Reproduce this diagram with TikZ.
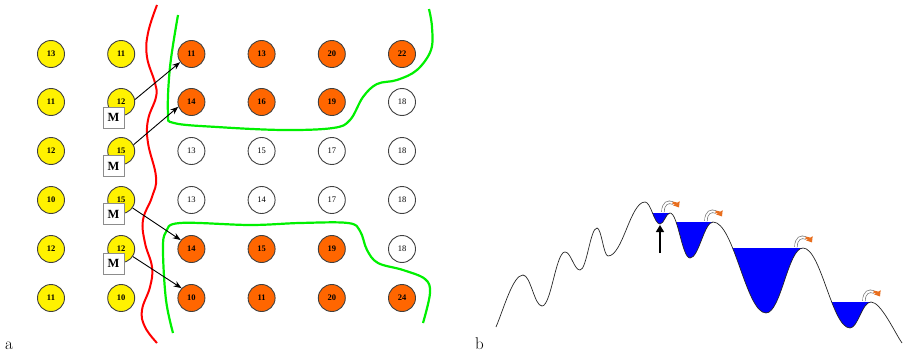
\documentclass[tikz,border=0pt]{standalone}
\usepackage{fontspec}
\newfontfamily\tnr{Liberation Serif}
\usetikzlibrary{arrows.meta}
\definecolor{orgfill}{RGB}{255,102,0}
\definecolor{ovforange}{RGB}{232,110,30}
\definecolor{lineRed}{RGB}{255,0,0}
\definecolor{lineGreen}{RGB}{0,240,0}
\begin{document}
\begin{tikzpicture}[x=1pt,y=-1pt,
  cell/.style={circle, draw=black!75, line width=0.9pt, minimum size=27pt, inner sep=0pt,
    font=\tnr\bfseries\fontsize{8.5}{8.5}\selectfont},
  ylw/.style={cell, fill=yellow},
  org/.style={cell, fill=orgfill},
  wht/.style={cell, fill=white, font=\tnr\fontsize{8.5}{8.5}\selectfont},
  mbox/.style={draw=black!45, fill=white, line width=0.6pt, minimum size=21pt, inner sep=0pt,
    font=\tnr\bfseries\fontsize{12.5}{12.5}\selectfont},
  mv/.style={-{Stealth[length=8pt,width=6pt]}, line width=0.9pt},
  land/.style={draw=black!85, line width=0.7pt},
  water/.style={fill=blue},
  lbl/.style={font=\fontsize{17}{17}\selectfont, inner sep=0pt, anchor=base west},
  ovf/.pic={
    \draw[draw=black!60, line width=0.6pt, double=white, double distance=2pt]
      (-7,-1) .. controls (-7,-10) and (-2,-12) .. (3,-10);
    \draw[ovforange, line width=2.4pt, -{Triangle[length=5pt,width=7.5pt]}]
      (2.5,-10.2) .. controls (6.5,-9.5) .. (9,-5.5);
  }
]
\useasboundingbox (0,0) rectangle (906,356);

% grid of circles
\foreach \r/\y/\vals in {
  1/54/{13/ylw,11/ylw,11/org,13/org,20/org,22/org},
  2/102/{11/ylw,12/ylw,14/org,16/org,19/org,18/wht},
  3/151/{12/ylw,15/ylw,13/wht,15/wht,17/wht,18/wht},
  4/200/{10/ylw,15/ylw,13/wht,14/wht,17/wht,18/wht},
  5/249/{12/ylw,12/ylw,14/org,15/org,19/org,18/wht},
  6/298/{11/ylw,10/ylw,10/org,11/org,20/org,24/org}}{
  \foreach [count=\c] \v/\s in \vals {
    \node[style=\s] (c\r\c) at ({51+70.2*(\c-1)},\y) {\v};
  }
}

% M boxes
\node[mbox] (m1) at (113.5,117.5) {M};
\node[mbox] (m2) at (113.5,166) {M};
\node[mbox] (m3) at (113.5,214) {M};
\node[mbox] (m4) at (113.5,263.5) {M};

% red boundary
\draw[lineRed, line width=2pt] plot[smooth, tension=0.7] coordinates {
  (157,5) (148,33) (147,57) (155,83) (156,97) (148,120) (148,143) (156,177)
  (152,197) (143,220) (145,243) (152,267) (150,287) (142,310) (145,327) (157,343)};

% green boundaries
\draw[lineGreen, line width=2.2pt] plot[smooth, tension=0.6] coordinates {
  (178,15) (170,67) (168,113) (174,123) (217,127) (283,130) (333,128) (350,120)
  (363,97) (377,84) (397,80) (417,70) (431,50) (432,27) (429,9)};
\draw[lineGreen, line width=2.2pt] plot[smooth, tension=0.6] coordinates {
  (173,333) (166,300) (163,250) (166,232) (180,223) (250,225) (300,223) (348,223)
  (360,231) (367,250) (378,263) (403,270) (425,279) (430,293) (423,323)};

% migration arrows
\draw[mv] (c22.10) -- (c13.216);
\draw[mv] (c32.27) -- (c23.200);
\draw[mv] (c42.-35) -- (c53.140);
\draw[mv] (c52.-33) -- (c63.135);

% labels
\node[lbl] (la) at (5,349) {a};
\node[lbl] (lb) at (475,349) {b};

% landscape
\def\landcurve{(496,327) .. controls (504,308) and (513,275) .. (523,275)
  .. controls (530.6,275) and (534.4,306) .. (542,306)
  .. controls (551.2,306) and (555.8,252) .. (565,252)
  .. controls (571,252) and (574,270) .. (580,270)
  .. controls (586.8,270) and (590.2,228) .. (597,228)
  .. controls (601.4,228) and (603.6,256) .. (608,256)
  .. controls (622.8,256) and (630.2,202) .. (645,202)
  .. controls (651,202) and (654,224) .. (660,224)
  .. controls (664,224) and (666,213) .. (670,213)
  .. controls (678,213) and (682,258) .. (690,258)
  .. controls (698.8,258) and (704.2,222) .. (713,222)
  .. controls (734,222) and (746,313) .. (766,313)
  .. controls (781,313) and (788,248) .. (803,248)
  .. controls (821,248) and (832,328) .. (850,328)
  .. controls (858,328) and (862,302) .. (871,302)
  .. controls (881,302) and (895,333) .. (902,343)}
\begin{scope}
  \clip \landcurve -- (902,0) -- (496,0) -- cycle;
  \fill[water] (645,213) rectangle (670,400);
  \fill[water] (670,222) rectangle (713,400);
  \fill[water] (713,248) rectangle (803,400);
  \fill[water] (803,302) rectangle (871,400);
\end{scope}
\draw[land] \landcurve;

% pump arrow
\coordinate (pumpbase) at (660,253);
\coordinate (pumptip) at (660,225);
\draw[line width=1.4pt, -{Triangle[length=7pt,width=8pt]}] (pumpbase) -- (pumptip);

% overflow arrows
\pic (o1) at (670,213) {ovf};
\pic (o2) at (713,222) {ovf};
\pic (o3) at (803,248) {ovf};
\pic (o4) at (871,302) {ovf};
\end{tikzpicture}
\end{document}
